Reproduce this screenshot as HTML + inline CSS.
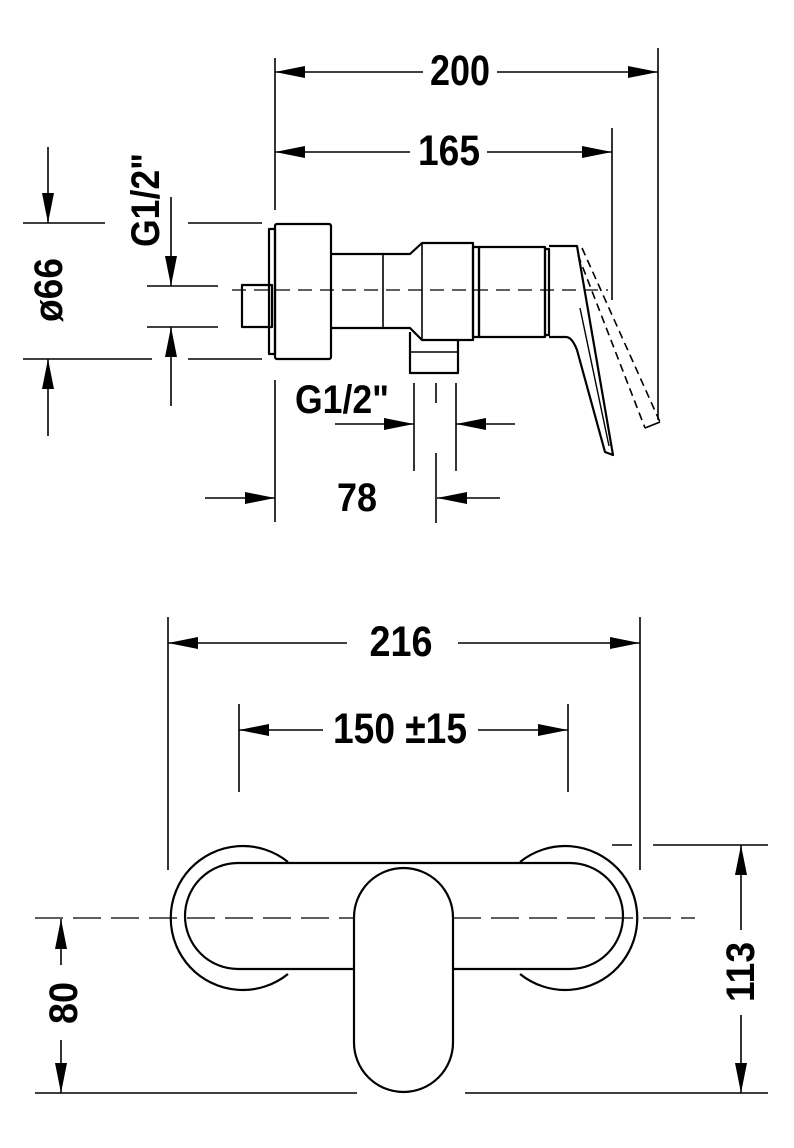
<!DOCTYPE html>
<html><head><meta charset="utf-8"><style>
html,body{margin:0;padding:0;background:#fff}
svg{display:block}
text{font-family:"Liberation Sans",sans-serif;font-weight:bold;fill:#000}
</style></head><body>
<svg width="794" height="1148" viewBox="0 0 794 1148" xmlns="http://www.w3.org/2000/svg">
<defs>
<marker id="a" viewBox="0 0 30 12" refX="30" refY="6" markerWidth="30" markerHeight="12" markerUnits="userSpaceOnUse" orient="auto"><path d="M0,0L30,6L0,12Z" fill="#000"/></marker>
</defs>
<g stroke="#000" stroke-width="1.6" fill="none">
<line x1="275" y1="58" x2="275" y2="210"/>
<line x1="658" y1="48" x2="658" y2="420"/>
<line x1="612" y1="128" x2="612" y2="300"/>
<line x1="423" y1="72" x2="275" y2="72" marker-end="url(#a)"/>
<line x1="497" y1="72" x2="658" y2="72" marker-end="url(#a)"/>
<line x1="410" y1="152" x2="275" y2="152" marker-end="url(#a)"/>
<line x1="487" y1="152" x2="612" y2="152" marker-end="url(#a)"/>
<line x1="48" y1="147" x2="48" y2="223" marker-end="url(#a)"/>
<line x1="48" y1="436" x2="48" y2="359" marker-end="url(#a)"/>
<line x1="23" y1="223" x2="105" y2="223"/>
<line x1="188" y1="223" x2="262" y2="223"/>
<line x1="23" y1="359" x2="152" y2="359"/>
<line x1="188" y1="359" x2="262" y2="359"/>
<line x1="171" y1="197" x2="171" y2="286" marker-end="url(#a)"/>
<line x1="171" y1="406" x2="171" y2="327" marker-end="url(#a)"/>
<line x1="147" y1="286" x2="218" y2="286"/>
<line x1="147" y1="327" x2="218" y2="327"/>
<line x1="275" y1="380" x2="275" y2="522"/>
<line x1="414" y1="383" x2="414" y2="471"/>
<line x1="456" y1="383" x2="456" y2="471"/>
<line x1="436" y1="383" x2="436" y2="403"/>
<line x1="436" y1="453" x2="436" y2="523"/>
<line x1="335" y1="424" x2="414" y2="424" marker-end="url(#a)"/>
<line x1="515" y1="424" x2="456" y2="424" marker-end="url(#a)"/>
<line x1="205" y1="498" x2="275" y2="498" marker-end="url(#a)"/>
<line x1="500" y1="498" x2="437" y2="498" marker-end="url(#a)"/>
<line x1="232" y1="290" x2="608" y2="290" stroke-dasharray="14,8" stroke-width="1.3"/>
</g>
<g stroke="#000" stroke-width="2.2" fill="none" stroke-linejoin="round">
<rect x="242" y="285" width="30" height="42"/>
<rect x="269" y="229" width="6" height="125"/>
<rect x="275" y="224" width="56" height="135" rx="2"/>
<path d="M331,254 L410,254 L422,243 L473,243 L473,340 L422,340 L410,328 L331,328"/>
<line x1="383" y1="254" x2="383" y2="328" stroke-width="1.6"/>
<line x1="422" y1="243" x2="422" y2="340" stroke-width="1.6"/>
<rect x="473" y="247" width="6" height="90"/>
<rect x="479" y="247" width="66" height="90"/>
<rect x="545" y="249" width="4" height="86"/>
<path d="M549,246 L577,246 L613,455 L605,452 L577,350 Q572,337 566,337 L549,337"/>
<line x1="580" y1="308" x2="609" y2="446" stroke-width="1.4"/>
<path d="M410,332 L410,373 L458,373 L458,340"/>
<line x1="410" y1="352" x2="458" y2="352" stroke-width="1.6"/>
</g>
<g stroke="#000" stroke-width="1.6" fill="none" stroke-dasharray="8,5">
<line x1="578" y1="255" x2="645" y2="428"/>
<line x1="582" y1="248" x2="660" y2="422"/>
<line x1="645" y1="428" x2="660" y2="422" stroke-dasharray="none"/>
</g>
<g stroke="#000" stroke-width="1.6" fill="none">
<line x1="168" y1="617" x2="168" y2="870"/>
<line x1="640" y1="617" x2="640" y2="870"/>
<line x1="347" y1="643" x2="168" y2="643" marker-end="url(#a)"/>
<line x1="458" y1="643" x2="640" y2="643" marker-end="url(#a)"/>
<line x1="239" y1="704" x2="239" y2="792"/>
<line x1="568" y1="704" x2="568" y2="792"/>
<line x1="323" y1="730" x2="239" y2="730" marker-end="url(#a)"/>
<line x1="478" y1="730" x2="568" y2="730" marker-end="url(#a)"/>
<line x1="612" y1="845" x2="632" y2="845"/>
<line x1="653" y1="845" x2="768" y2="845"/>
<line x1="35" y1="1093" x2="357" y2="1093"/>
<line x1="465" y1="1093" x2="768" y2="1093"/>
<line x1="741" y1="930" x2="741" y2="845" marker-end="url(#a)"/>
<line x1="741" y1="1015" x2="741" y2="1093" marker-end="url(#a)"/>
<line x1="61" y1="965" x2="61" y2="919" marker-end="url(#a)"/>
<line x1="61" y1="1040" x2="61" y2="1093" marker-end="url(#a)"/>
<line x1="35" y1="918" x2="695" y2="918" stroke-dasharray="28,10" stroke-width="1.3"/>
</g>
<g stroke="#000" stroke-width="2.2" fill="none">
<path d="M288,862 A72,72 0 1 0 288,974"/>
<path d="M520,862 A72,72 0 1 1 520,974"/>
<rect x="185" y="863" width="438" height="106" rx="53"/>
<rect x="354" y="868" width="99" height="224" rx="49.5" fill="#fff"/>
</g>
<text x="460" y="85" font-size="43" text-anchor="middle" textLength="60" lengthAdjust="spacingAndGlyphs">200</text>
<text x="449" y="165" font-size="43" text-anchor="middle" textLength="62" lengthAdjust="spacingAndGlyphs">165</text>
<text x="401" y="656" font-size="43" text-anchor="middle" textLength="63" lengthAdjust="spacingAndGlyphs">216</text>
<text x="400" y="743" font-size="43" text-anchor="middle" textLength="134" lengthAdjust="spacingAndGlyphs">150 ±15</text>
<text x="342" y="413" font-size="40" text-anchor="middle" textLength="94" lengthAdjust="spacingAndGlyphs">G1/2"</text>
<text x="357" y="511" font-size="40" text-anchor="middle" textLength="40" lengthAdjust="spacingAndGlyphs">78</text>
<text transform="translate(62,290) rotate(-90)" font-size="40" text-anchor="middle" textLength="64" lengthAdjust="spacingAndGlyphs">ø66</text>
<text transform="translate(159,200) rotate(-90)" font-size="40" text-anchor="middle" textLength="94" lengthAdjust="spacingAndGlyphs">G1/2"</text>
<text transform="translate(77,1003) rotate(-90)" font-size="40" text-anchor="middle" textLength="42" lengthAdjust="spacingAndGlyphs">80</text>
<text transform="translate(754,972) rotate(-90)" font-size="40" text-anchor="middle" textLength="60" lengthAdjust="spacingAndGlyphs">113</text>
</svg>
</body></html>
